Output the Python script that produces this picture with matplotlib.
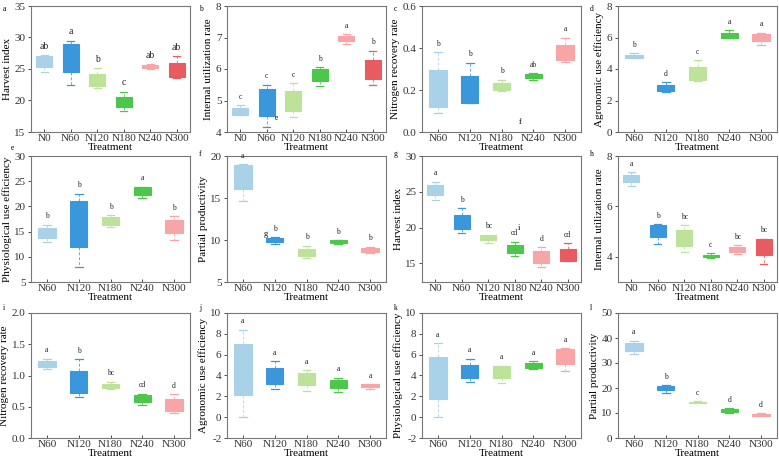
import matplotlib
matplotlib.use("Agg")
import matplotlib.pyplot as plt
from matplotlib.ticker import FormatStrFormatter

plt.rcParams['font.family'] = ['Liberation Serif', 'DejaVu Serif']

cats6 = ['N0', 'N60', 'N120', 'N180', 'N240', 'N300']
cats5 = ['N60', 'N120', 'N180', 'N240', 'N300']
colors6 = ['#a9d2e9', '#3b97dc', '#bde39a', '#4cc74c', '#f8a5a8', '#e85b60']
colors5 = colors6[:5]

# a: Harvest index
a_q1 = [25.3, 24.6, 22.3, 18.9, 25.1, 23.8]
a_q3 = [27.0, 28.9, 24.2, 20.6, 25.6, 25.9]
a_lo = [24.6, 22.5, 22.0, 18.4, 25.0, 23.5]
a_hi = [27.2, 29.5, 25.1, 21.4, 25.8, 27.0]
a_sig = ['ab', 'a', 'b', 'c', 'ab', 'ab']
# b: Internal utilization rate
b_q1 = [4.55, 4.52, 4.68, 5.62, 6.88, 5.67]
b_q3 = [4.75, 5.35, 5.30, 6.00, 7.05, 6.30]
b_lo = [4.55, 4.15, 4.48, 5.45, 6.80, 5.50]
b_hi = [4.85, 5.50, 5.55, 6.05, 7.10, 6.58]
b_sig = ['c', 'c', 'c', 'b', 'a', 'b']
# c: Nitrogen recovery rate
c_q1 = [0.12, 0.14, 0.20, 0.255, 0.345]
c_q3 = [0.295, 0.265, 0.235, 0.275, 0.415]
c_lo = [0.09, 0.14, 0.195, 0.25, 0.335]
c_hi = [0.38, 0.33, 0.25, 0.28, 0.45]
c_sig = ['b', 'b', 'b', 'ab', 'a']
# d: Agronomic use efficiency
d_q1 = [4.72, 2.60, 3.30, 6.00, 5.75]
d_q3 = [4.92, 3.00, 4.15, 6.30, 6.20]
d_lo = [4.70, 2.55, 3.25, 5.95, 5.50]
d_hi = [5.00, 3.15, 4.55, 6.45, 6.30]
d_sig = ['b', 'd', 'c', 'a', 'a']
# e: Physiological use efficiency
e_q1 = [13.8, 12.0, 16.4, 22.3, 14.7]
e_q3 = [15.8, 21.0, 17.8, 23.8, 17.4]
e_lo = [13.0, 7.9, 15.9, 21.6, 13.4]
e_hi = [16.4, 22.5, 18.3, 23.9, 18.1]
e_sig = ['b', 'b', 'b', 'a', 'b']
# f: Partial productivity
f_q1 = [16.1, 9.8, 8.15, 9.6, 8.6]
f_q3 = [18.9, 10.25, 8.95, 9.95, 9.05]
f_lo = [14.7, 9.55, 7.9, 9.5, 8.5]
f_hi = [19.0, 10.3, 9.3, 10.0, 9.2]
f_sig = ['a', 'b', 'b', 'b', 'b']
# g: Harvest index
g_q1 = [24.5, 19.8, 18.2, 16.4, 15.1, 15.4]
g_q3 = [25.9, 21.8, 19.0, 17.5, 16.7, 17.0]
g_lo = [23.9, 19.3, 17.8, 16.1, 14.5, 15.3]
g_hi = [26.4, 22.7, 19.0, 18.0, 17.3, 17.8]
g_sig = ['a', 'b', 'bc', 'cd', 'd', 'cd']
# h: Internal utilization rate
h_q1 = [6.95, 4.77, 4.44, 3.98, 4.20, 4.07]
h_q3 = [7.25, 5.25, 5.05, 4.08, 4.38, 4.72]
h_lo = [6.80, 4.50, 4.20, 3.95, 4.12, 3.72]
h_hi = [7.35, 5.30, 5.25, 4.15, 4.45, 4.72]
h_sig = ['a', 'b', 'bc', 'c', 'bc', 'bc']
# i: Nitrogen recovery rate
i_q1 = [1.14, 0.72, 0.80, 0.58, 0.44]
i_q3 = [1.23, 1.08, 0.87, 0.69, 0.62]
i_lo = [1.10, 0.65, 0.78, 0.53, 0.40]
i_hi = [1.27, 1.26, 0.90, 0.71, 0.70]
i_sig = ['a', 'b', 'bc', 'cd', 'd']
# j: Agronomic use efficiency
j_q1 = [2.1, 3.2, 3.1, 2.8, 2.85]
j_q3 = [7.0, 4.7, 4.2, 3.6, 3.15]
j_lo = [0.05, 2.75, 2.55, 2.45, 2.70]
j_hi = [8.4, 5.35, 4.50, 3.80, 3.15]
j_sig = ['a', 'a', 'a', 'a', 'a']
# k: Physiological use efficiency
k_q1 = [1.75, 3.8, 3.8, 4.75, 5.15]
k_q3 = [5.8, 5.05, 4.95, 5.2, 6.5]
k_lo = [0.05, 3.4, 3.3, 4.6, 4.4]
k_hi = [7.1, 5.6, 4.95, 5.35, 6.6]
k_sig = ['a', 'a', 'a', 'a', 'a']
# l: Partial productivity
l_q1 = [35.0, 19.2, 14.0, 10.5, 9.0]
l_q3 = [38.0, 20.9, 14.6, 11.8, 9.6]
l_lo = [33.8, 18.0, 14.0, 10.0, 8.9]
l_hi = [39.0, 21.2, 14.7, 12.0, 10.0]
l_sig = ['a', 'b', 'c', 'd', 'd']

panels = [
    ('a', 'Harvest index', cats6, (15, 35), [15, 20, 25, 30, 35], '%d', a_q1, a_q3, a_lo, a_hi, a_sig),
    ('b', 'Internal utilization rate', cats6, (4, 8), [4, 5, 6, 7, 8], '%d', b_q1, b_q3, b_lo, b_hi, b_sig),
    ('c', 'Nitrogen recovery rate', cats5, (0, 0.6), [0, 0.2, 0.4, 0.6], '%.1f', c_q1, c_q3, c_lo, c_hi, c_sig),
    ('d', 'Agronomic use efficiency', cats5, (0, 8), [0, 2, 4, 6, 8], '%d', d_q1, d_q3, d_lo, d_hi, d_sig),
    ('e', 'Physiological use efficiency', cats5, (5, 30), [5, 10, 15, 20, 25, 30], '%d', e_q1, e_q3, e_lo, e_hi, e_sig),
    ('f', 'Partial productivity', cats5, (5, 20), [5, 10, 15, 20], '%d', f_q1, f_q3, f_lo, f_hi, f_sig),
    ('g', 'Harvest index', cats6, (12.4, 30), [15, 20, 25, 30], '%d', g_q1, g_q3, g_lo, g_hi, g_sig),
    ('h', 'Internal utilization rate', cats6, (3, 8), [4, 6, 8], '%d', h_q1, h_q3, h_lo, h_hi, h_sig),
    ('i', 'Nitrogen recovery rate', cats5, (0, 2), [0, 0.5, 1.0, 1.5, 2.0], '%.1f', i_q1, i_q3, i_lo, i_hi, i_sig),
    ('j', 'Agronomic use efficiency', cats5, (-2, 10), [-2, 0, 2, 4, 6, 8, 10], '%d', j_q1, j_q3, j_lo, j_hi, j_sig),
    ('k', 'Physiological use efficiency', cats5, (-2, 10), [-2, 0, 2, 4, 6, 8, 10], '%d', k_q1, k_q3, k_lo, k_hi, k_sig),
    ('l', 'Partial productivity', cats5, (0, 50), [0, 10, 20, 30, 40, 50], '%d', l_q1, l_q3, l_lo, l_hi, l_sig),
]

W, H = 779, 462
fig = plt.figure(figsize=(W / 100, H / 100), dpi=100)

col_left = [31, 227, 422, 618]
ax_w = 159
row_top = [6, 156, 313]
ax_h = [126, 126, 125]
letter_dy = [-1, -6, -9]
sig_fs = [7, 5.5, 5.5, 5.5, 5.5, 5.5, 5.5, 5.5, 5.5, 5.5, 5.5, 5.5]

for idx, (letter, ylabel, cats, ylim, yticks, fmt, q1, q3, lo, hi, sig) in enumerate(panels):
    r, c = divmod(idx, 4)
    left = col_left[c]
    top = row_top[r]
    ax = fig.add_axes([left / W, 1 - (top + ax_h[r]) / H, ax_w / W, ax_h[r] / H])
    n = len(cats)
    cols = colors6 if n == 6 else colors5
    width = 0.62 if n == 6 else 0.55
    stats = []
    for k in range(n):
        stats.append(dict(q1=q1[k], q3=q3[k], med=(q1[k] + q3[k]) / 2,
                          whislo=lo[k], whishi=hi[k], fliers=[]))
    bp = ax.bxp(stats, positions=range(1, n + 1), widths=width, patch_artist=True,
                showfliers=False, manage_ticks=False)
    for k in range(n):
        bp['boxes'][k].set_facecolor(cols[k])
        bp['boxes'][k].set_edgecolor(cols[k])
        bp['boxes'][k].set_linewidth(0.8)
        bp['medians'][k].set_visible(False)
        for w in bp['whiskers'][2 * k:2 * k + 2]:
            w.set_color(cols[k]); w.set_linestyle((0, (3, 2))); w.set_linewidth(0.7); w.set_alpha(0.8)
        for cp in bp['caps'][2 * k:2 * k + 2]:
            cp.set_color(cols[k]); cp.set_linewidth(0.9)
            xd = cp.get_xdata()
            mid = (xd[0] + xd[1]) / 2
            cp.set_xdata([mid - width * 0.22, mid + width * 0.22])
        ax.text(k + 1, hi[k] + (ylim[1] - ylim[0]) * 0.035, sig[k], ha='center', va='bottom',
                fontsize=sig_fs[idx], color='#222222')
    ax.set_xlim(0.5, n + 0.5)
    ax.set_ylim(*ylim)
    ax.set_yticks(yticks)
    ax.yaxis.set_major_formatter(FormatStrFormatter(fmt))
    ax.set_xticks(range(1, n + 1))
    ax.set_xticklabels(cats)
    ax.tick_params(labelsize=8, length=2.5, width=0.6, colors='#333333', pad=1.5)
    ax.tick_params(axis='x', length=2, direction='in')
    for s in ax.spines.values():
        s.set_color('#777777'); s.set_linewidth(0.8)
    ax.set_xlabel('Treatment', fontsize=8, labelpad=0)
    ax.set_ylabel(ylabel, fontsize=8, labelpad=2)
    if letter == 'e':
        lx, ly = left - 20, top - 12
    else:
        lx, ly = left - 28, top + letter_dy[r]
    fig.text(lx / W, 1 - ly / H, letter, fontsize=5.5, ha='left', va='top')

# stray labels as seen in the reference
axes = fig.axes
axes[1].text(2.35, 4.45, 'e', fontsize=5.5, ha='center', va='center')
axes[2].text(3.6, 0.05, 'f', fontsize=6, ha='center', va='center')
axes[5].text(1.72, 10.75, 'g', fontsize=6, ha='center', va='center')
axes[6].text(4.15, 20.0, 'i', fontsize=6, ha='center', va='center')

fig.savefig('out.png', dpi=100)
